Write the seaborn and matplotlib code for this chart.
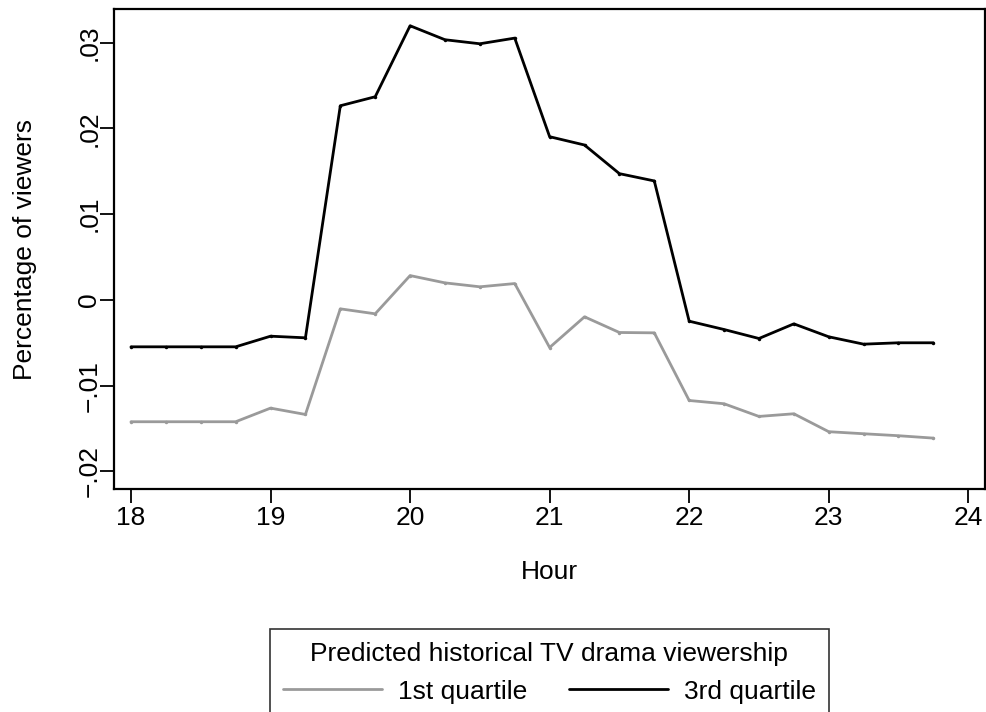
import matplotlib
matplotlib.use("Agg")
import matplotlib.pyplot as plt
from matplotlib.lines import Line2D
import numpy as np
import pandas as pd
import seaborn as sns

# Quarter-hour slots from 18:00 to 23:45
hours = [18.0, 18.25, 18.5, 18.75, 19.0, 19.25, 19.5, 19.75,
         20.0, 20.25, 20.5, 20.75, 21.0, 21.25, 21.5, 21.75,
         22.0, 22.25, 22.5, 22.75, 23.0, 23.25, 23.5, 23.75]

first_quartile = [-0.01422, -0.01422, -0.01422, -0.01422, -0.01263, -0.01337,
                  -0.00105, -0.00163, 0.00283, 0.00198, 0.00152, 0.00190,
                  -0.00556, -0.00198, -0.00381, -0.00385, -0.01174, -0.01212,
                  -0.01360, -0.01329, -0.01538, -0.01562, -0.01585, -0.01613]

third_quartile = [-0.00548, -0.00548, -0.00548, -0.00548, -0.00424, -0.00443,
                  0.02264, 0.02369, 0.03197, 0.03034, 0.02987, 0.03053,
                  0.01903, 0.01806, 0.01472, 0.01387, -0.00249, -0.00346,
                  -0.00451, -0.00280, -0.00431, -0.00517, -0.00501, -0.00501]

series_names = ["1st quartile", "3rd quartile"]
series_colors = {"1st quartile": "#9a9a9a", "3rd quartile": "#000000"}

x_ticks = [18, 19, 20, 21, 22, 23, 24]
y_ticks = [-0.02, -0.01, 0.0, 0.01, 0.02, 0.03]
y_tick_labels = ["\u2212.02", "\u2212.01", "0", ".01", ".02", ".03"]

df = pd.concat([
    pd.DataFrame({"Hour": hours, "value": first_quartile, "group": series_names[0]}),
    pd.DataFrame({"Hour": hours, "value": third_quartile, "group": series_names[1]}),
])

sns.set_theme(style="white")
plt.rcParams["font.family"] = ["Liberation Sans", "DejaVu Sans"]

FS = 19
W, H = 986, 712
fig = plt.figure(figsize=(W / 100, H / 100), dpi=100)
left, right, top, bottom = 113.7, 985.0, 9.3, 488.7
ax = fig.add_axes([left / W, 1 - bottom / H, (right - left) / W, (bottom - top) / H])

sns.lineplot(data=df, x="Hour", y="value", hue="group", hue_order=series_names,
             palette=series_colors, ax=ax, linewidth=2.0, marker="o",
             markersize=2.5, markeredgewidth=0, legend=False, sort=False)

ax.set_xlim(17.876, 24.12)
ax.set_ylim(-0.02203, 0.03389)
ax.set_xticks(x_ticks)
ax.set_xticklabels([str(t) for t in x_ticks])
ax.set_yticks(y_ticks)
ax.set_yticklabels(y_tick_labels, rotation=90, va="center")

for s in ax.spines.values():
    s.set_visible(True)
    s.set_color("black")
    s.set_linewidth(1.6)

ax.tick_params(axis="both", which="major", direction="out", length=10, width=1.3,
               color="black", labelsize=FS, labelcolor="black",
               bottom=True, left=True)
ax.tick_params(axis="x", pad=2.5)
ax.tick_params(axis="y", pad=-1)

ax.set_xlabel("Hour", fontsize=FS, color="black")
ax.set_ylabel("Percentage of viewers", fontsize=FS, color="black")
ax.xaxis.set_label_coords(0.5, -0.148)
ax.yaxis.set_label_coords(-0.0885, 0.5)

handles = [Line2D([], [], color=series_colors[n], linewidth=2.0) for n in series_names]
leg = fig.legend(handles, series_names, ncol=2, loc="upper center",
                 bbox_to_anchor=((left + right) / 2 / W, 1 - 629.3 / H),
                 title="Predicted historical TV drama viewership",
                 fontsize=FS, title_fontsize=FS, frameon=True, fancybox=False,
                 edgecolor="black", handlelength=3.75, handletextpad=0.6,
                 columnspacing=1.6, borderpad=0.5, labelspacing=0.5,
                 borderaxespad=0)
leg.get_frame().set_linewidth(1.2)
leg.get_title().set_color("black")
for t in leg.get_texts():
    t.set_color("black")

fig.savefig("out.png", dpi=100, facecolor="white")
